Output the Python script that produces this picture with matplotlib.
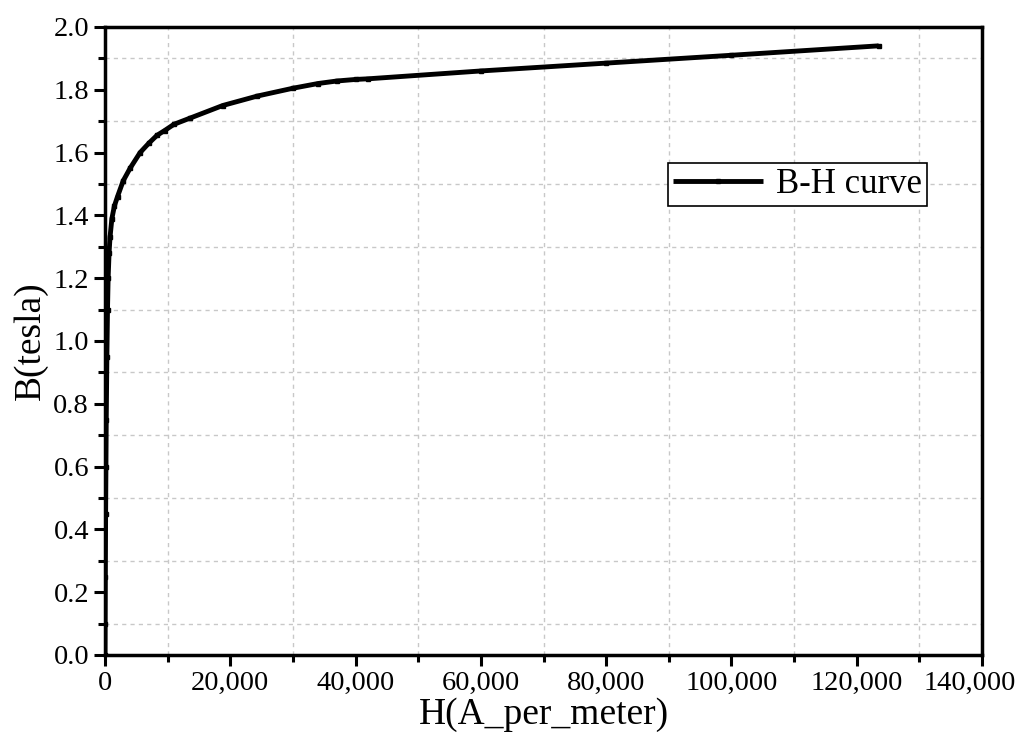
import matplotlib
matplotlib.use("Agg")
import matplotlib.pyplot as plt
from matplotlib.ticker import MultipleLocator, FuncFormatter

# B-H curve
H = [0, 20, 50, 100, 150, 200, 300, 400, 500, 650, 800, 1100, 1500, 2000,
     2900, 4000, 5600, 7000, 8300, 9500, 11000, 13600, 18800, 24300, 30000,
     34000, 37000, 40000, 42000, 60000, 80000, 100000, 123500]
B = [0.0, 0.1, 0.25, 0.45, 0.6, 0.75, 0.95, 1.1, 1.2, 1.28, 1.33, 1.39,
     1.43, 1.46, 1.51, 1.55, 1.60, 1.63, 1.655, 1.67, 1.69, 1.71, 1.75,
     1.78, 1.805, 1.82, 1.828, 1.833, 1.835, 1.86, 1.885, 1.91, 1.94]
XMAX = 140000

plt.rcParams["font.family"] = ["Liberation Serif", "DejaVu Serif"]

fig = plt.figure(figsize=(10.24, 7.44), dpi=100)
ax = fig.add_axes([105 / 1024, 89 / 744, 877 / 1024, 628 / 744])

ax.plot(H, B, color="black", lw=3.5, marker="s", ms=2.5, label="B-H curve",
        solid_capstyle="butt")

ax.set_xlim(0, XMAX)
ax.set_ylim(0, 2.0)
ax.xaxis.set_major_locator(MultipleLocator(20000))
ax.xaxis.set_minor_locator(MultipleLocator(10000))
ax.yaxis.set_major_locator(MultipleLocator(0.2))
ax.yaxis.set_minor_locator(MultipleLocator(0.1))
# the last x label is drawn by hand below, nudged left like the reference
ax.xaxis.set_major_formatter(
    FuncFormatter(lambda v, p: "" if v >= XMAX else f"{int(v):,}"))
ax.yaxis.set_major_formatter(FuncFormatter(lambda v, p: f"{v:.1f}"))

ax.grid(which="minor", color="#c8c8c8", linestyle=(0, (3, 3)), linewidth=1)
ax.grid(which="major", visible=False)

for s in ax.spines.values():
    s.set_linewidth(2.5)
ax.tick_params(which="major", direction="out", length=8, width=2.2,
               labelsize=20.5, top=False, right=False)
ax.tick_params(which="minor", direction="out", length=5, width=2.2,
               top=False, right=False)

ax.annotate(f"{XMAX:,}", xy=(XMAX, 0), xycoords="data",
            xytext=(-9, -11.5), textcoords="offset points",
            ha="center", va="top", fontsize=20.5, annotation_clip=False)

ax.set_xlabel("H(A_per_meter)", fontsize=27, labelpad=1)
ax.set_ylabel("B(tesla)", fontsize=27, labelpad=4)

leg = ax.legend(loc="upper left", bbox_to_anchor=(668 / 1024, 1 - 163 / 744),
                bbox_transform=fig.transFigure, fontsize=25, fancybox=False,
                edgecolor="black", framealpha=1, borderpad=0.15,
                handlelength=2.6, handletextpad=0.35, borderaxespad=0)
leg.get_frame().set_linewidth(1.2)

fig.savefig("out.png", dpi=100)
